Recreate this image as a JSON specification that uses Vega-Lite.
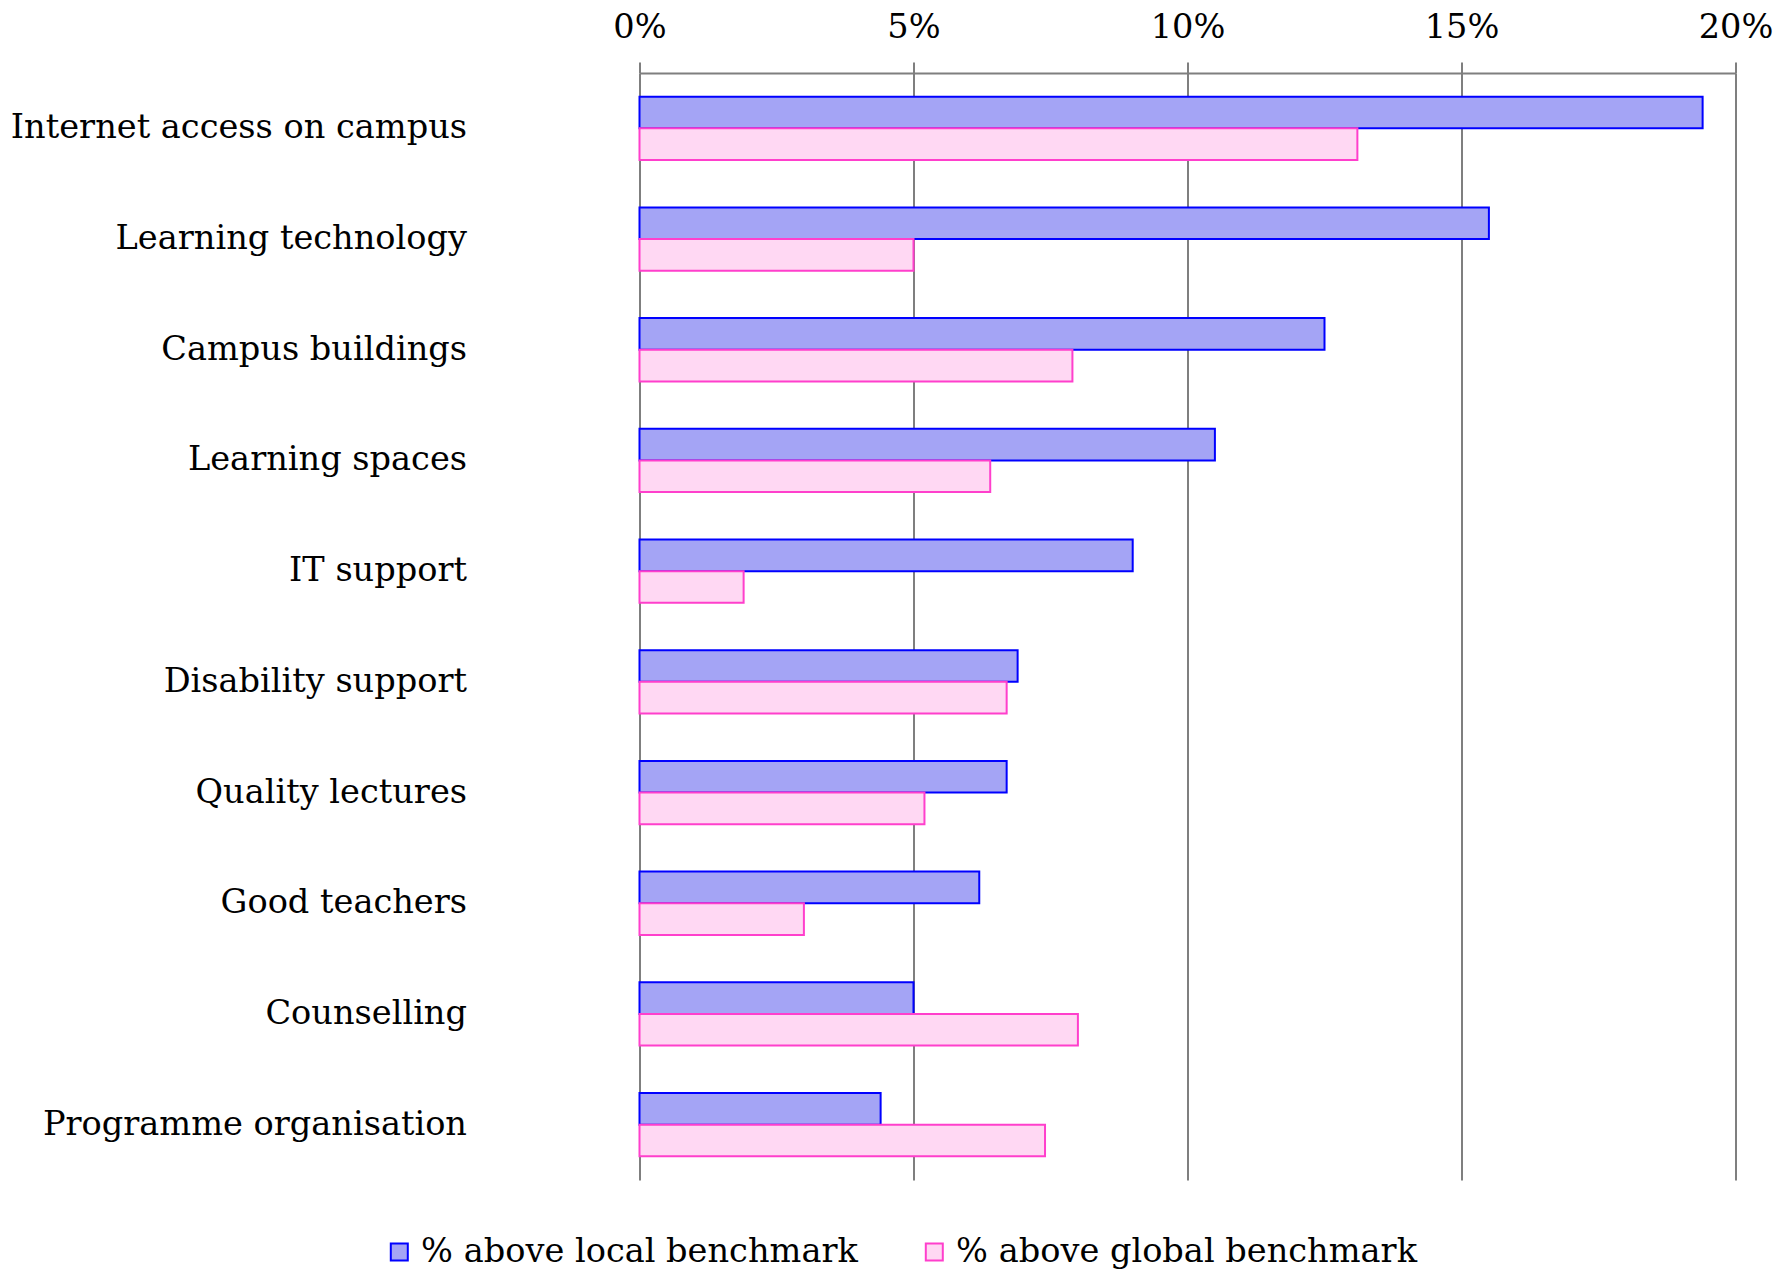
{
  "$schema": "https://vega.github.io/schema/vega-lite/v6.json",
  "autosize": {"type": "none"},
  "padding": {"left": 639.5, "top": 73, "right": 54.5, "bottom": 89},
  "width": 1096,
  "height": 1107,
  "background": "white",
  "config": {
    "view": {"stroke": null},
    "font": "DejaVu Serif"
  },
  "data": {
    "values": [
      {"item": "Internet access on campus", "series": "% above local benchmark", "value": 19.4},
      {"item": "Internet access on campus", "series": "% above global benchmark", "value": 13.1},
      {"item": "Learning technology", "series": "% above local benchmark", "value": 15.5},
      {"item": "Learning technology", "series": "% above global benchmark", "value": 5.0},
      {"item": "Campus buildings", "series": "% above local benchmark", "value": 12.5},
      {"item": "Campus buildings", "series": "% above global benchmark", "value": 7.9},
      {"item": "Learning spaces", "series": "% above local benchmark", "value": 10.5},
      {"item": "Learning spaces", "series": "% above global benchmark", "value": 6.4},
      {"item": "IT support", "series": "% above local benchmark", "value": 9.0},
      {"item": "IT support", "series": "% above global benchmark", "value": 1.9},
      {"item": "Disability support", "series": "% above local benchmark", "value": 6.9},
      {"item": "Disability support", "series": "% above global benchmark", "value": 6.7},
      {"item": "Quality lectures", "series": "% above local benchmark", "value": 6.7},
      {"item": "Quality lectures", "series": "% above global benchmark", "value": 5.2},
      {"item": "Good teachers", "series": "% above local benchmark", "value": 6.2},
      {"item": "Good teachers", "series": "% above global benchmark", "value": 3.0},
      {"item": "Counselling", "series": "% above local benchmark", "value": 5.0},
      {"item": "Counselling", "series": "% above global benchmark", "value": 8.0},
      {"item": "Programme organisation", "series": "% above local benchmark", "value": 4.4},
      {"item": "Programme organisation", "series": "% above global benchmark", "value": 7.4}
    ]
  },
  "mark": {"type": "bar", "strokeWidth": 2},
  "encoding": {
    "y": {
      "field": "item",
      "type": "nominal",
      "sort": null,
      "scale": {"paddingInner": 0.428, "paddingOuter": 0.214},
      "axis": {
        "title": null,
        "ticks": false,
        "domain": false,
        "labelPadding": 173,
        "labelFont": "DejaVu Serif",
        "labelFontSize": 33.6,
        "labelColor": "black",
        "labelLimit": 700
      }
    },
    "x": {
      "field": "value",
      "type": "quantitative",
      "scale": {"domain": [0, 20], "nice": false},
      "axis": {
        "orient": "top",
        "title": null,
        "values": [0, 5, 10, 15, 20],
        "labelExpr": "datum.value + '%'",
        "labelFont": "DejaVu Serif",
        "labelFontSize": 33.6,
        "labelColor": "black",
        "labelPadding": 18,
        "labelFlush": false,
        "tickSize": 11,
        "tickColor": "#7f7f7f",
        "tickWidth": 2,
        "domainColor": "#7f7f7f",
        "domainWidth": 2,
        "grid": true,
        "gridColor": "#7f7f7f",
        "gridWidth": 2,
        "gridOpacity": 1
      }
    },
    "yOffset": {
      "field": "series",
      "type": "nominal",
      "sort": ["% above local benchmark", "% above global benchmark"],
      "scale": {"paddingInner": 0, "paddingOuter": 0}
    },
    "fill": {
      "field": "series",
      "type": "nominal",
      "scale": {
        "domain": ["% above local benchmark", "% above global benchmark"],
        "range": ["#a4a4f5", "#ffd8f3"]
      },
      "legend": {
        "title": null,
        "orient": "none",
        "direction": "horizontal",
        "legendX": -257,
        "legendY": 1162,
        "symbolType": "square",
        "symbolSize": 289,
        "symbolStrokeWidth": 2,
        "labelFont": "DejaVu Serif",
        "labelFontSize": 33.6,
        "labelColor": "black",
        "labelOffset": 5,
        "columnPadding": 59,
        "padding": 0,
        "labelLimit": 600
      }
    },
    "stroke": {
      "field": "series",
      "type": "nominal",
      "scale": {
        "domain": ["% above local benchmark", "% above global benchmark"],
        "range": ["#0000ff", "#ff3fcc"]
      },
      "legend": {
        "title": null,
        "orient": "none",
        "direction": "horizontal",
        "legendX": -257,
        "legendY": 1162,
        "symbolType": "square",
        "symbolSize": 289,
        "symbolStrokeWidth": 2,
        "labelFont": "DejaVu Serif",
        "labelFontSize": 33.6,
        "labelColor": "black",
        "labelOffset": 5,
        "columnPadding": 59,
        "padding": 0,
        "labelLimit": 600
      }
    }
  }
}
